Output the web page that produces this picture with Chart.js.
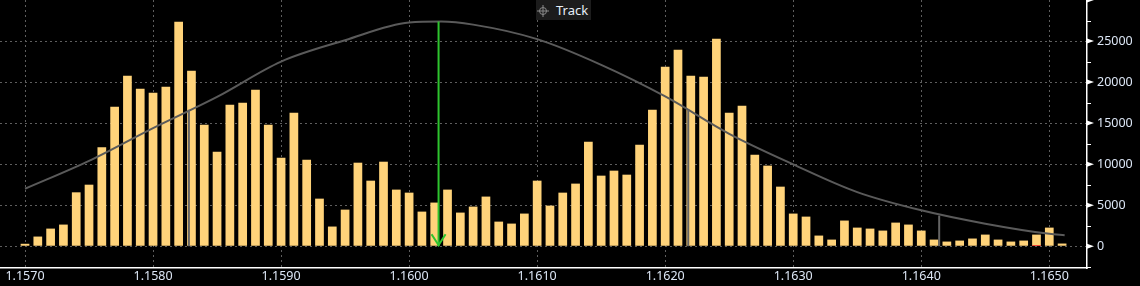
<!DOCTYPE html>
<html>
<head>
<meta charset="utf-8">
<script src="https://cdn.jsdelivr.net/npm/chart.js@4"></script>
<style>
  html, body { margin: 0; padding: 0; background: #000; }
  #wrap { position: relative; width: 1140px; height: 286px; }
  #track {
    position: absolute; left: 536px; top: 0; width: 55px; height: 20px;
    background: #1c1c1c; color: #e6eef8; font: 13px "Noto Sans", sans-serif;
    line-height: 20px; box-sizing: border-box; padding-left: 20px;
  }
  #track svg { position: absolute; left: 1px; top: 5px; }
</style>
</head>
<body>
<div id="wrap">
  <canvas id="volumeProfile" width="1140" height="286"></canvas>
  <div id="track">
    <svg width="12" height="12" viewBox="0 0 12 12">
      <circle cx="6" cy="6" r="3.5" fill="none" stroke="#8a8a8a" stroke-width="1"/>
      <path d="M6 0V12M0 6H12" stroke="#8a8a8a" stroke-width="1"/>
    </svg>Track
  </div>
</div>
<script>
// price bins (bar centres)
const prices = [
  1.1570, 1.1571, 1.1572, 1.1573, 1.1574, 1.1575, 1.1576, 1.1577, 1.1578, 1.1579,
  1.1580, 1.1581, 1.1582, 1.1583, 1.1584, 1.1585, 1.1586, 1.1587, 1.1588, 1.1589,
  1.1590, 1.1591, 1.1592, 1.1593, 1.1594, 1.1595, 1.1596, 1.1597, 1.1598, 1.1599,
  1.1600, 1.1601, 1.1602, 1.1603, 1.1604, 1.1605, 1.1606, 1.1607, 1.1608, 1.1609,
  1.1610, 1.1611, 1.1612, 1.1613, 1.1614, 1.1615, 1.1616, 1.1617, 1.1618, 1.1619,
  1.1620, 1.1621, 1.1622, 1.1623, 1.1624, 1.1625, 1.1626, 1.1627, 1.1628, 1.1629,
  1.1630, 1.1631, 1.1632, 1.1633, 1.1634, 1.1635, 1.1636, 1.1637, 1.1638, 1.1639,
  1.1640, 1.1641, 1.1642, 1.1643, 1.1644, 1.1645, 1.1646, 1.1647, 1.1648, 1.1649,
  1.1650, 1.1651
];
// volume per bin
const volumes = [
  300, 1180, 2150, 2640, 6570, 7500, 12050, 17000, 20770, 19190,
  18700, 19430, 27340, 21370, 14800, 11510, 17240, 17480, 19060, 14800,
  10790, 16270, 10550, 5800, 2400, 4460, 10180, 7990, 10300, 6900,
  6530, 4220, 5320, 6900, 4100, 4830, 6050, 3000, 2760, 3980,
  7990, 4950, 6530, 7630, 12740, 8600, 9210, 8720, 12370, 16630,
  21860, 23930, 20770, 20640, 25270, 16270, 17110, 11160, 9820, 7260,
  3980, 3610, 1300, 810, 3130, 2270, 2150, 1910, 2880, 2640,
  1910, 810, 570, 690, 940, 1420, 810, 570, 690, 1420,
  2270, 330
];
// small red part of the last-price bin
const lastPrice = [1.1649];
const lastVolume = [150];

// fitted distribution curve
const curvePrices = [1.1570, 1.1575, 1.1580, 1.1585, 1.1590, 1.1595, 1.1600, 1.16025, 1.1605,
  1.1610, 1.1615, 1.1620, 1.1625, 1.1630, 1.1635, 1.1640, 1.1645, 1.1650, 1.16512];
const curveValues = [7000, 10400, 14400, 18200, 22500, 25100, 27250, 27370, 27000,
  25230, 22100, 18250, 13700, 9980, 6600, 4380, 2750, 1510, 1340];

// sigma markers and mean arrow
const sigmaPrices = [1.15828, 1.16218, 1.16414];
const sigmaHeights = [16630, 16630, 3730];
const meanPrice = 1.16023;
const meanHeight = 27370;

// axes
const xTicks = [1.1570, 1.1580, 1.1590, 1.1600, 1.1610, 1.1620, 1.1630, 1.1640, 1.1650];
const yTicks = [0, 5000, 10000, 15000, 20000, 25000];
const yMajor = [0, 5000, 10000, 15000, 20000, 25000, 30000];
const yMinor = [-2500, 2500, 7500, 12500, 17500, 22500, 27500];

const datasets = [];
datasets.push({
  type: 'line', data: curvePrices.map((p, i) => ({x: p, y: curveValues[i]})),
  borderColor: '#5a5a5a', borderWidth: 2, pointRadius: 0,
  cubicInterpolationMode: 'monotone', order: -1
});
sigmaPrices.forEach((p, i) => {
  datasets.push({
    type: 'line', data: [{x: p, y: 0}, {x: p, y: sigmaHeights[i]}],
    borderColor: '#646464', borderWidth: 2, pointRadius: 0, order: -2
  });
});
datasets.push({
  type: 'line', data: [{x: meanPrice, y: meanHeight}, {x: meanPrice, y: 0}],
  borderColor: '#2ec42e', borderWidth: 2, pointRadius: 0, order: -3
});
datasets.push({
  type: 'bar', data: lastPrice.map((p, i) => ({x: p, y: lastVolume[i]})),
  backgroundColor: '#ff2a2a', grouped: false, barPercentage: 0.68, categoryPercentage: 1, order: 0
});
datasets.push({
  type: 'bar', data: prices.map((p, i) => ({x: p, y: volumes[i]})),
  backgroundColor: '#ffd37a', grouped: false, barPercentage: 0.68, categoryPercentage: 1, order: 1
});

const labelFont = {family: '"Noto Sans", sans-serif', size: 12.5};

// arrow head on the mean line + axis tick marks
const extras = {
  id: 'extras',
  afterDatasetsDraw(chart) {
    const ctx = chart.ctx;
    const xs = chart.scales.x, ys = chart.scales.y;
    const px = xs.getPixelForValue(meanPrice), py = ys.getPixelForValue(0);
    ctx.save();
    ctx.strokeStyle = '#2ec42e';
    ctx.lineWidth = 2;
    ctx.beginPath();
    ctx.moveTo(px - 7, py - 12);
    ctx.lineTo(px, py - 1);
    ctx.lineTo(px + 7, py - 12);
    ctx.stroke();
    ctx.restore();
  },
  afterDraw(chart) {
    const ctx = chart.ctx;
    const ys = chart.scales.y;
    const ax = ys.left;
    ctx.save();
    ctx.fillStyle = '#ffffff';
    ctx.strokeStyle = '#ffffff';
    ctx.lineWidth = 1;
    yMajor.forEach(v => {
      const y = ys.getPixelForValue(v);
      ctx.beginPath();
      ctx.moveTo(ax, y - 2.5);
      ctx.lineTo(ax + 7, y);
      ctx.lineTo(ax, y + 2.5);
      ctx.closePath();
      ctx.fill();
    });
    yMinor.forEach(v => {
      const y = Math.round(ys.getPixelForValue(v)) + 0.5;
      ctx.beginPath();
      ctx.moveTo(ax, y);
      ctx.lineTo(ax + 4, y);
      ctx.stroke();
    });
    ctx.restore();
  }
};

new Chart(document.getElementById('volumeProfile').getContext('2d'), {
  type: 'bar',
  data: {datasets: datasets},
  options: {
    responsive: false,
    animation: false,
    devicePixelRatio: 1,
    layout: {padding: 0},
    plugins: {legend: {display: false}, tooltip: {enabled: false}},
    scales: {
      x: {
        type: 'linear',
        offset: false,
        min: 1.1568047,
        max: 1.1652945,
        afterBuildTicks: s => { s.ticks = xTicks.map(v => ({value: v})); },
        afterFit: s => { s.height = 18; s.paddingLeft = 0; s.paddingRight = 0; },
        grid: {color: '#5e5e5e', lineWidth: 1, drawTicks: false, offset: false},
        border: {color: '#ffffff', width: 1.5, dash: [2, 3]},
        ticks: {
          color: '#dce6f5', font: labelFont, padding: 1, maxRotation: 0, autoSkip: false,
          callback: v => v.toFixed(4)
        }
      },
      y: {
        position: 'right',
        min: -2650,
        max: 30000,
        afterBuildTicks: s => { s.ticks = yTicks.map(v => ({value: v})); },
        afterFit: s => { s.width = 53; s.paddingTop = 0; s.paddingBottom = 0; },
        grid: {color: '#5e5e5e', lineWidth: 1, drawTicks: false},
        border: {color: '#ffffff', width: 1.5, dash: [2, 3]},
        ticks: {color: '#dce6f5', font: labelFont, padding: 10, autoSkip: false, callback: v => String(v)}
      }
    }
  },
  plugins: [extras]
});
</script>
</body>
</html>
